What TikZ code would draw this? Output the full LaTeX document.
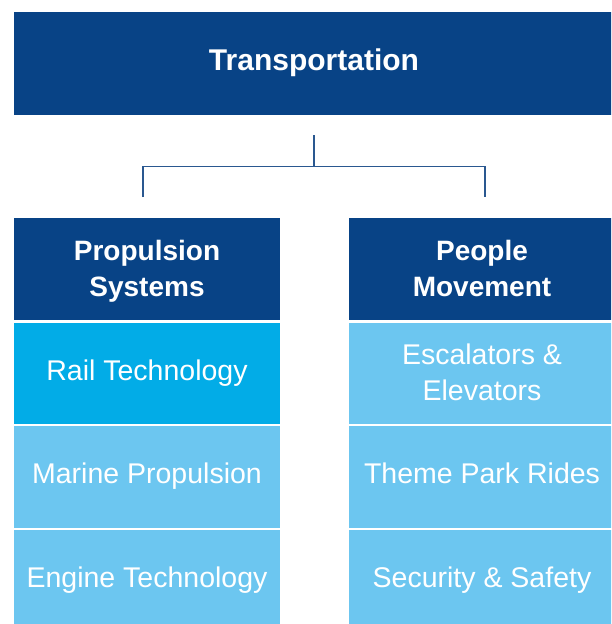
\documentclass[tikz,border=0pt]{standalone}
\usepackage{fontspec}
\setmainfont{Liberation Sans}
\definecolor{darkblue}{HTML}{084386}
\definecolor{cyanblue}{HTML}{02ACE7}
\definecolor{lightblue}{HTML}{6CC6F0}
\definecolor{linecol}{HTML}{2A5890}
\newcommand{\lastdp}{\rule[-7pt]{0pt}{0pt}}
\begin{document}
\begin{tikzpicture}[x=1pt,y=-1pt,
  box/.style={inner sep=0pt, outer sep=0pt, text=white, align=center, anchor=north west},
  oneline/.style={execute at begin node=\strut, execute at end node=\strut},
  topbox/.style={box, oneline, fill=darkblue, minimum width=600pt, minimum height=103pt,
    font=\fontsize{30}{36}\selectfont\bfseries},
  headbox/.style={box, fill=darkblue, minimum width=266pt, minimum height=102pt,
    font=\fontsize{28}{36}\selectfont\bfseries},
  itembox/.style={box, fill=lightblue, minimum width=266pt, minimum height=101.5pt,
    font=\fontsize{28.5}{36}\selectfont},
  hilite/.style={fill=cyanblue},
  conn/.style={draw=linecol, line width=1.3pt}]
\useasboundingbox (0,0) rectangle (611,624);
\clip (0,0) rectangle (611,624);
% top
\node[topbox] (top) at (14,12) {Transportation};
% left column
\node[headbox] (ps) at (14,218) {\strut Propulsion\\Systems\lastdp};
\node[itembox, oneline, hilite] (rail) at (14,322.5) {Rail Technology};
\node[itembox, oneline] (marine) at (14,426) {Marine Propulsion};
\node[itembox, oneline] (engine) at (14,529.5) {Engine Technology};
% right column
\node[headbox] (pm) at (349,218) {\strut People\\Movement\lastdp};
\node[itembox] (esc) at (349,322.5) {\strut Escalators \&\\Elevators\lastdp};
\node[itembox, oneline] (theme) at (349,426) {Theme Park Rides};
\node[itembox, oneline] (sec) at (349,529.5) {Security \& Safety};
% connectors
\draw[conn] ([yshift=-20pt]top.south) -- ++(0,31.5) coordinate (j);
\draw[conn] ([xshift=-4pt,yshift=21pt]ps.north) |- (j) -| ([xshift=3pt,yshift=21pt]pm.north);
\end{tikzpicture}
\end{document}
